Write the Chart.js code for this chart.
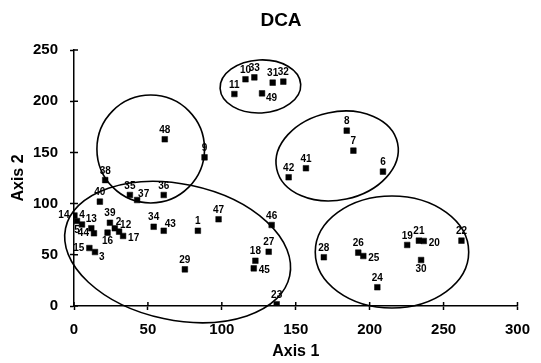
<!DOCTYPE html>
<html>
<head>
<meta charset="utf-8">
<title>DCA</title>
<script src="https://cdn.jsdelivr.net/npm/chart.js@4.4.0/dist/chart.umd.min.js"></script>
<style>
    html, body { margin: 0; padding: 0; background: #fff; }
    #wrap { width: 541px; height: 363px; position: relative; }
</style>
</head>
<body>
<div id="wrap"><canvas id="dca"></canvas></div>
<script>
    // Sample numbers and their DCA scores
    const sampleIds = [1, 2, 3, 4, 5, 6, 7, 8, 9, 10,
                       11, 12, 13, 14, 15, 16, 17, 18, 19, 20,
                       21, 22, 23, 24, 25, 26, 27, 28, 29, 30,
                       31, 32, 33, 34, 35, 36, 37, 38, 39, 40,
                       41, 42, 43, 44, 45, 46, 47, 48, 49];
    const axis1 = [83.8, 27.6, 14.2, 5.4, 2.0, 209.0, 189.0, 184.5, 88.3, 116.0,
                   108.5, 30.5, 11.7, 0.3, 10.4, 22.7, 33.2, 122.7, 225.4, 236.6,
                   233.3, 262.1, 137.1, 205.2, 195.7, 192.3, 131.7, 169.0, 75.0, 234.8,
                   134.4, 141.6, 122.0, 53.9, 37.8, 60.7, 42.7, 21.1, 24.3, 17.5,
                   156.9, 145.2, 60.7, 13.5, 121.6, 133.7, 97.8, 61.4, 127.2];
    const axis2 = [73.5, 75.9, 52.7, 79.6, 83.0, 131.2, 151.7, 171.2, 145.2, 221.4,
                   207.0, 72.6, 75.9, 88.4, 56.6, 71.6, 68.4, 44.2, 59.6, 63.5,
                   63.8, 63.8, 1.7, 18.3, 48.8, 52.1, 53.0, 47.6, 35.8, 44.9,
                   218.1, 219.1, 223.3, 77.4, 108.4, 108.4, 103.5, 123.0, 81.3, 101.9,
                   134.5, 125.7, 73.5, 71.0, 36.8, 79.1, 84.7, 162.8, 207.7];

    const xTicks = [0, 50, 100, 150, 200, 250, 300];
    const yTicks = [0, 50, 100, 150, 200, 250];

    // Hand-drawn groupings (centre and radii in axis units, tilt in degrees)
    const groups = [
        { cx: 126.1, cy: 214.4, rx: 27.3, ry: 25.9, tilt: -3 },
        { cx: 178.0, cy: 146.5, rx: 41.8, ry: 43.0, tilt: -12 },
        { cx: 215.1, cy: 52.7,  rx: 51.9, ry: 54.7, tilt: 0 },
        { cx: 51.9,  cy: 153.3, rx: 36.4, ry: 52.7, tilt: 0 },
        { cx: 70.1,  cy: 52.7,  rx: 77.5, ry: 66.4, tilt: 12 }
    ];

    const FONT = "'Liberation Sans', Arial, Helvetica, sans-serif";

    // where a number label sits relative to its square (default: above)
    const labelSide = {
        14: 'l', 44: 'l', 15: 'l',
        17: 'r', 45: 'r', 25: 'r', 20: 'r',
        2: 'ur', 12: 'ur', 37: 'ur', 43: 'ur',
        3: 'br', 49: 'br',
        16: 'b', 30: 'b', 5: 'b'
    };

    const points = sampleIds.map((id, i) => ({ x: axis1[i], y: axis2[i], id: id }));

    const groupRings = {
        id: 'groupRings',
        afterDatasetsDraw(chart) {
            const { ctx, scales: { x, y } } = chart;
            ctx.save();
            ctx.strokeStyle = '#000';
            ctx.lineWidth = 1.6;
            groups.forEach(g => {
                const px = x.getPixelForValue(g.cx);
                const py = y.getPixelForValue(g.cy);
                const rx = Math.abs(x.getPixelForValue(g.cx + g.rx) - px);
                const ry = Math.abs(y.getPixelForValue(g.cy + g.ry) - py);
                ctx.beginPath();
                ctx.ellipse(px, py, rx, ry, g.tilt * Math.PI / 180, 0, Math.PI * 2);
                ctx.stroke();
            });
            ctx.restore();
        }
    };

    const pointNumbers = {
        id: 'pointNumbers',
        afterDatasetsDraw(chart) {
            const { ctx } = chart;
            const meta = chart.getDatasetMeta(0);
            ctx.save();
            ctx.fillStyle = '#000';
            ctx.font = 'bold 10px ' + FONT;
            meta.data.forEach((el, i) => {
                const id = points[i].id;
                const side = labelSide[id] || 't';
                let tx = el.x, ty = el.y;
                if (side === 'l') {
                    ctx.textAlign = 'right'; ctx.textBaseline = 'middle'; tx -= 5;
                } else if (side === 'r') {
                    ctx.textAlign = 'left'; ctx.textBaseline = 'middle'; tx += 5; ty += 2;
                } else if (side === 'ur') {
                    ctx.textAlign = 'left'; ctx.textBaseline = 'bottom'; tx += 1; ty -= 1;
                } else if (side === 'br') {
                    ctx.textAlign = 'left'; ctx.textBaseline = 'top'; tx += 4; ty += 0;
                } else if (side === 'b') {
                    ctx.textAlign = 'center'; ctx.textBaseline = 'top'; ty += 4;
                } else {
                    ctx.textAlign = 'center'; ctx.textBaseline = 'bottom'; ty -= 4;
                }
                ctx.fillText(String(id), tx, ty);
            });
            ctx.restore();
        }
    };

    // crossing tick marks and the title
    const axisDecor = {
        id: 'axisDecor',
        afterDraw(chart) {
            const { ctx, scales: { x, y } } = chart;
            const x0 = x.getPixelForValue(0);
            const y0 = y.getPixelForValue(0);
            ctx.save();
            ctx.strokeStyle = '#000';
            ctx.lineWidth = 1.5;
            ctx.beginPath();
            xTicks.forEach(v => {
                const p = x.getPixelForValue(v);
                ctx.moveTo(p, y0);
                ctx.lineTo(p, y0 - 4);
            });
            yTicks.forEach(v => {
                const p = y.getPixelForValue(v);
                ctx.moveTo(x0, p);
                ctx.lineTo(x0 + 4, p);
            });
            ctx.stroke();

            ctx.fillStyle = '#000';
            ctx.font = 'bold 19px ' + FONT;
            ctx.textAlign = 'center';
            ctx.textBaseline = 'middle';
            ctx.fillText('DCA', 281, 21);
            ctx.restore();
        }
    };

    const tickFont = { family: FONT, size: 15, weight: 'bold' };
    const titleFont = { family: FONT, size: 16, weight: 'bold' };

    new Chart(document.getElementById('dca'), {
        type: 'scatter',
        data: {
            datasets: [{
                data: points,
                pointStyle: 'rect',
                pointRadius: 4,
                pointHoverRadius: 4,
                backgroundColor: '#000',
                borderColor: '#000',
                borderWidth: 0.5
            }]
        },
        options: {
            responsive: true,
            maintainAspectRatio: false,
            animation: false,
            layout: { padding: { top: 50, right: 22, left: 0, bottom: 0 } },
            plugins: {
                legend: { display: false },
                tooltip: { enabled: false },
                title: { display: false }
            },
            scales: {
                x: {
                    type: 'linear',
                    min: 0,
                    max: 300,
                    afterBuildTicks: s => { s.ticks = xTicks.map(v => ({ value: v })); },
                    afterFit: s => { s.height = 57; },
                    ticks: { font: tickFont, color: '#000', padding: 11 },
                    grid: { display: true, drawOnChartArea: false, tickLength: 4, tickColor: '#000', tickWidth: 1.5 },
                    border: { display: true, color: '#000', width: 1.5 },
                    title: { display: true, text: 'Axis 1', font: titleFont, color: '#000', padding: { top: 0, bottom: 2 } }
                },
                y: {
                    type: 'linear',
                    min: 0,
                    max: 250,
                    afterBuildTicks: s => { s.ticks = yTicks.map(v => ({ value: v })); },
                    afterFit: s => { s.width = 74; },
                    ticks: { font: tickFont, color: '#000', padding: 12 },
                    grid: { display: true, drawOnChartArea: false, tickLength: 4, tickColor: '#000', tickWidth: 1.5 },
                    border: { display: true, color: '#000', width: 1.5 },
                    title: { display: true, text: 'Axis 2', font: titleFont, color: '#000', padding: { top: 9, bottom: 0 } }
                }
            }
        },
        plugins: [groupRings, pointNumbers, axisDecor]
    });
</script>
</body>
</html>
